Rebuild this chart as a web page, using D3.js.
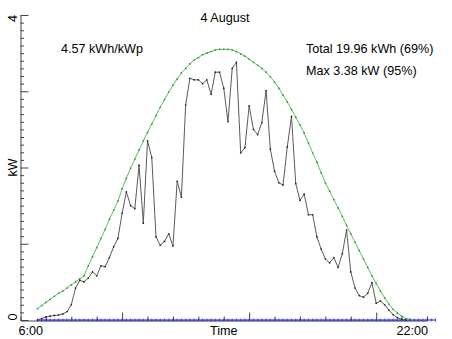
<!DOCTYPE html>
<html>
<head>
<meta charset="utf-8">
<script src="https://cdn.jsdelivr.net/npm/d3@7"></script>
<style>
  html, body { margin: 0; padding: 0; background: #fff; }
  svg { display: block; }
  text { font-family: "Liberation Sans", Arial, Helvetica, sans-serif; fill: #000; }
</style>
</head>
<body>
<svg id="chart" width="452" height="339"></svg>
<script>
// Samples every 10 minutes, first sample at 6:40
const sampleStart = 6 + 40 / 60;
const sampleStepMin = 10;

// Measured AC power (kW)
const measuredKW = [
  0.00, 0.02, 0.04, 0.05, 0.06, 0.065, 0.08, 0.11,          // 6:40 - 7:50
  0.20, 0.42, 0.52, 0.50, 0.55, 0.63,                       // 8:00 - 8:50
  0.58, 0.71, 0.70, 0.82, 0.96, 1.07,                       // 9:00 - 9:50
  1.40, 1.68, 1.50, 1.46, 2.03, 1.27,                       // 10:00 - 10:50
  2.35, 2.13, 1.09, 0.98, 1.03, 1.13,                       // 11:00 - 11:50
  0.97, 1.82, 1.61, 2.82, 3.17, 3.15,                       // 12:00 - 12:50
  3.15, 3.10, 3.15, 2.96, 3.25, 3.25,                       // 13:00 - 13:50
  3.04, 2.60, 3.30, 3.38, 2.19, 2.26,                       // 14:00 - 14:50
  2.81, 2.50, 2.43, 2.59, 3.01, 2.24,                       // 15:00 - 15:50
  1.95, 1.80, 1.77, 2.27, 2.67, 1.79,                       // 16:00 - 16:50
  1.57, 1.65, 1.38, 1.38, 1.09, 0.93,                       // 17:00 - 17:50
  0.80, 0.75, 0.82, 0.69, 0.87, 1.18,                       // 18:00 - 18:50
  0.63, 0.42, 0.32, 0.30, 0.35, 0.49,                       // 19:00 - 19:50
  0.22, 0.25, 0.20, 0.13, 0.07, 0.03,                       // 20:00 - 20:50
  0.01, 0.00                                                // 21:00 - 21:10
];

// Clear-sky reference power (kW)
const clearSkyKW = [
  0.15, 0.19, 0.23, 0.27, 0.31, 0.35, 0.38, 0.42,           // 6:40 - 7:50
  0.46, 0.50, 0.54, 0.58, 0.71, 0.83,                       // 8:00 - 8:50
  0.95, 1.07, 1.19, 1.32, 1.44, 1.56,                       // 9:00 - 9:50
  1.72, 1.86, 1.99, 2.11, 2.23, 2.35,                       // 10:00 - 10:50
  2.46, 2.57, 2.68, 2.79, 2.89, 2.99,                       // 11:00 - 11:50
  3.08, 3.16, 3.24, 3.30, 3.36, 3.41,                       // 12:00 - 12:50
  3.44, 3.48, 3.50, 3.52, 3.54, 3.55,                       // 13:00 - 13:50
  3.55, 3.55, 3.54, 3.52, 3.49, 3.46,                       // 14:00 - 14:50
  3.42, 3.38, 3.34, 3.30, 3.25, 3.19,                       // 15:00 - 15:50
  3.12, 3.04, 2.95, 2.86, 2.76, 2.66,                       // 16:00 - 16:50
  2.56, 2.45, 2.32, 2.19, 2.07, 1.93,                       // 17:00 - 17:50
  1.80, 1.69, 1.58, 1.47, 1.36, 1.24,                       // 18:00 - 18:50
  1.13, 1.02, 0.91, 0.80, 0.69, 0.58,                       // 19:00 - 19:50
  0.48, 0.38, 0.29, 0.21, 0.14, 0.09,                       // 20:00 - 20:50
  0.05, 0.02, 0.01                                          // 21:00 - 21:20
];

// Second channel, idle all day (kW)
const idleKW = [
  0,0,0,0,0,0,0,0, 0,0,0,0,0,0, 0,0,0,0,0,0, 0,0,0,0,0,0,
  0,0,0,0,0,0, 0,0,0,0,0,0, 0,0,0,0,0,0, 0,0,0,0,0,0,
  0,0,0,0,0,0, 0,0,0,0,0,0, 0,0,0,0,0,0, 0,0,0,0,0,0,
  0,0,0,0,0,0, 0,0,0,0,0,0, 0,0,0,0,0,0, 0,0,0
];

const titleText = "4 August";
const yieldText = "4.57 kWh/kWp";
const totalText = "Total 19.96 kWh (69%)";
const maxText = "Max 3.38 kW (95%)";
const xTickLabels = ["6:00", "22:00"];
const yTickLabels = ["0", "4"];
const xDomain = [6, 22];
const yDomain = [0, 4];

const svg = d3.select("#chart");
svg.append("rect").attr("width", 452).attr("height", 339).attr("fill", "#fff");

const x = d3.scaleLinear().domain(xDomain).range([20.5, 427]);
const y = d3.scaleLinear().domain(yDomain).range([320, 15]);

const hourOf = i => sampleStart + i * sampleStepMin / 60;
const axisColor = "#444";

// Left axis: ticks pointing into the plot
const yMinor = d3.range(0, 41).map(v => v / 10).filter(v => Math.abs(v - Math.round(v)) > 1e-6);
const yMajor = [0, 1, 2, 3, 4];
svg.append("g")
  .attr("transform", "translate(20.5,0)")
  .call(d3.axisRight(y).tickValues(yMinor).tickSize(3.5).tickSizeOuter(0).tickFormat(""))
  .call(g => g.selectAll("path,line").attr("stroke", axisColor).attr("stroke-width", 1));
svg.append("g")
  .attr("transform", "translate(20.5,0)")
  .call(d3.axisRight(y).tickValues(yMajor).tickSize(8).tickSizeOuter(0).tickFormat(""))
  .call(g => g.select("path").remove())
  .call(g => g.selectAll("line").attr("stroke", axisColor).attr("stroke-width", 1));

// Bottom axis: hourly ticks, longer every five hours
const xHours = d3.range(6, 23);
svg.append("g")
  .attr("transform", "translate(0,320.5)")
  .call(d3.axisTop(x).tickValues(xHours.filter(h => h % 5 !== 0)).tickSize(4).tickSizeOuter(0).tickFormat(""))
  .call(g => g.selectAll("path,line").attr("stroke", axisColor).attr("stroke-width", 1));
svg.append("g")
  .attr("transform", "translate(0,320.5)")
  .call(d3.axisTop(x).tickValues(xHours.filter(h => h % 5 === 0)).tickSize(8).tickSizeOuter(0).tickFormat(""))
  .call(g => g.select("path").remove())
  .call(g => g.selectAll("line").attr("stroke", axisColor).attr("stroke-width", 1));

// Axis labels
svg.append("text").attr("x", x(xDomain[0]) - 2).attr("y", 335)
  .attr("font-size", 12.6).attr("text-anchor", "start").text(xTickLabels[0]);
svg.append("text").attr("x", x(xDomain[1]) + 1).attr("y", 335)
  .attr("font-size", 12.6).attr("text-anchor", "end").text(xTickLabels[1]);
svg.append("text").attr("x", (x(xDomain[0]) + x(xDomain[1])) / 2).attr("y", 335)
  .attr("font-size", 12.6).attr("text-anchor", "middle").text("Time");

const yLab = (txt, yy, anchor) => svg.append("text")
  .attr("transform", `translate(16.5,${yy}) rotate(-90)`)
  .attr("font-size", 12.6).attr("text-anchor", anchor).text(txt);
yLab(yTickLabels[0], y(yDomain[0]) + 0.5, "start");
yLab(yTickLabels[1], y(yDomain[1]), "end");
yLab("kW", (y(0) + y(4)) / 2, "middle");

// Header texts
svg.append("text").attr("x", 225).attr("y", 22).attr("font-size", 12.6)
  .attr("text-anchor", "middle").text(titleText);
svg.append("text").attr("x", 61).attr("y", 53).attr("font-size", 12.6).text(yieldText);
svg.append("text").attr("x", 306).attr("y", 53).attr("font-size", 12.6).text(totalText);
svg.append("text").attr("x", 306).attr("y", 75).attr("font-size", 12.6).text(maxText);

const lineGen = d3.line().x((d, i) => x(hourOf(i))).y(d => y(d));

// Idle channel: blue line with + markers
svg.append("path").datum(idleKW).attr("d", lineGen)
  .attr("fill", "none").attr("stroke", "#0000ff").attr("stroke-width", 1);
svg.append("g").selectAll("line").data(idleKW).join("line")
  .attr("x1", (d, i) => x(hourOf(i))).attr("x2", (d, i) => x(hourOf(i)))
  .attr("y1", d => y(d) - 1.5).attr("y2", d => y(d) + 1.5)
  .attr("stroke", "#3333ff").attr("stroke-width", 0.8);

// Clear-sky reference: green line with dots
svg.append("path").datum(clearSkyKW).attr("d", lineGen)
  .attr("fill", "none").attr("stroke", "#5cc05c").attr("stroke-width", 1);
svg.append("g").selectAll("circle").data(clearSkyKW).join("circle")
  .attr("cx", (d, i) => x(hourOf(i))).attr("cy", d => y(d)).attr("r", 0.85)
  .attr("fill", "#2a922a");

// Measured power: dark line with dots
svg.append("path").datum(measuredKW).attr("d", lineGen)
  .attr("fill", "none").attr("stroke", "#5a5a5a").attr("stroke-width", 1);
svg.append("g").selectAll("circle").data(measuredKW).join("circle")
  .attr("cx", (d, i) => x(hourOf(i))).attr("cy", d => y(d)).attr("r", 0.85)
  .attr("fill", "#222");
</script>
</body>
</html>
